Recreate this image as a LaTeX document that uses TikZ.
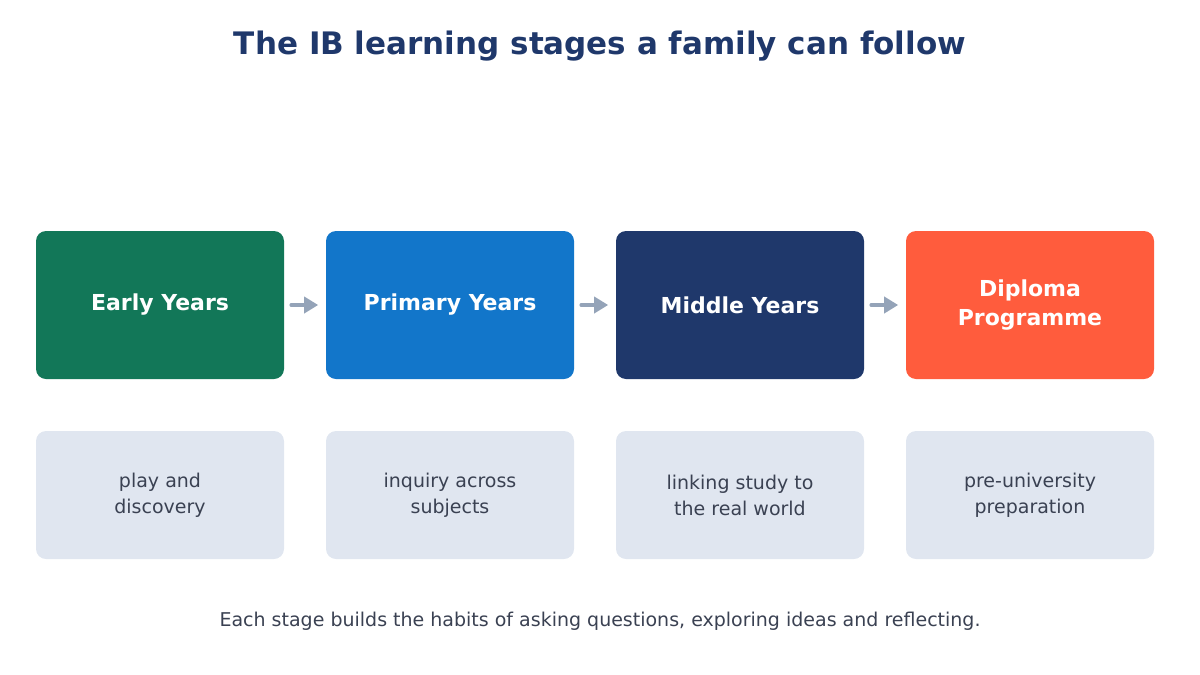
\documentclass[tikz,border=0pt]{standalone}
\usepackage{fontspec}
\setmainfont{DejaVu Sans}
\usetikzlibrary{arrows.meta}
\definecolor{titleblue}{HTML}{1F386B}
\definecolor{eygreen}{HTML}{127758}
\definecolor{pyblue}{HTML}{1276CA}
\definecolor{mynavy}{HTML}{1F386B}
\definecolor{dporange}{HTML}{FF5C3D}
\definecolor{notebg}{HTML}{E0E6F0}
\definecolor{notetext}{HTML}{3A4152}
\definecolor{arrowgray}{HTML}{94A3B8}
\tikzset{
  stage/.style={rounded corners=10pt, minimum width=248pt, minimum height=148pt,
    text=white, font=\fontsize{22}{29}\selectfont\bfseries, align=center},
  note/.style={rounded corners=10pt, minimum width=248pt, minimum height=128pt,
    fill=notebg, text=notetext, font=\fontsize{19}{26}\selectfont, align=center},
  link/.style={draw=arrowgray, line width=3.5pt, line cap=round, -{Triangle[length=14pt,width=16pt]}}
}
\begin{document}
\begin{tikzpicture}[x=1pt,y=-1pt]
\useasboundingbox (0,0) rectangle (1200,675);
\node (T) at (600,46) {\textcolor{titleblue}{\fontsize{31}{36}\selectfont\bfseries The IB learning stages a family can follow}};
\node[stage, fill=eygreen] (EY) at (160,305) {Early Years};
\node[stage, fill=pyblue] (PY) at (450,305) {Primary Years};
\node[stage, fill=mynavy] (MY) at (740,305) {Middle Years};
\node[stage, fill=dporange] (DP) at (1030,305) {Diploma\\Programme};
\draw[link] (EY.east) ++(7,0) coordinate (a1) -- ++(27,0) coordinate (b1);
\draw[link] (PY.east) ++(7,0) coordinate (a2) -- ++(27,0) coordinate (b2);
\draw[link] (MY.east) ++(7,0) coordinate (a3) -- ++(27,0) coordinate (b3);
\node[note] (N1) at (160,495) {play and\\discovery};
\node[note] (N2) at (450,495) {inquiry across\\subjects};
\node[note] (N3) at (740,495) {linking study to\\the real world};
\node[note] (N4) at (1030,495) {pre-university\\preparation};
\node[text=notetext, font=\fontsize{19}{24}\selectfont] (F) at (600,621) {Each stage builds the habits of asking questions, exploring ideas and reflecting.};
\end{tikzpicture}
\end{document}
